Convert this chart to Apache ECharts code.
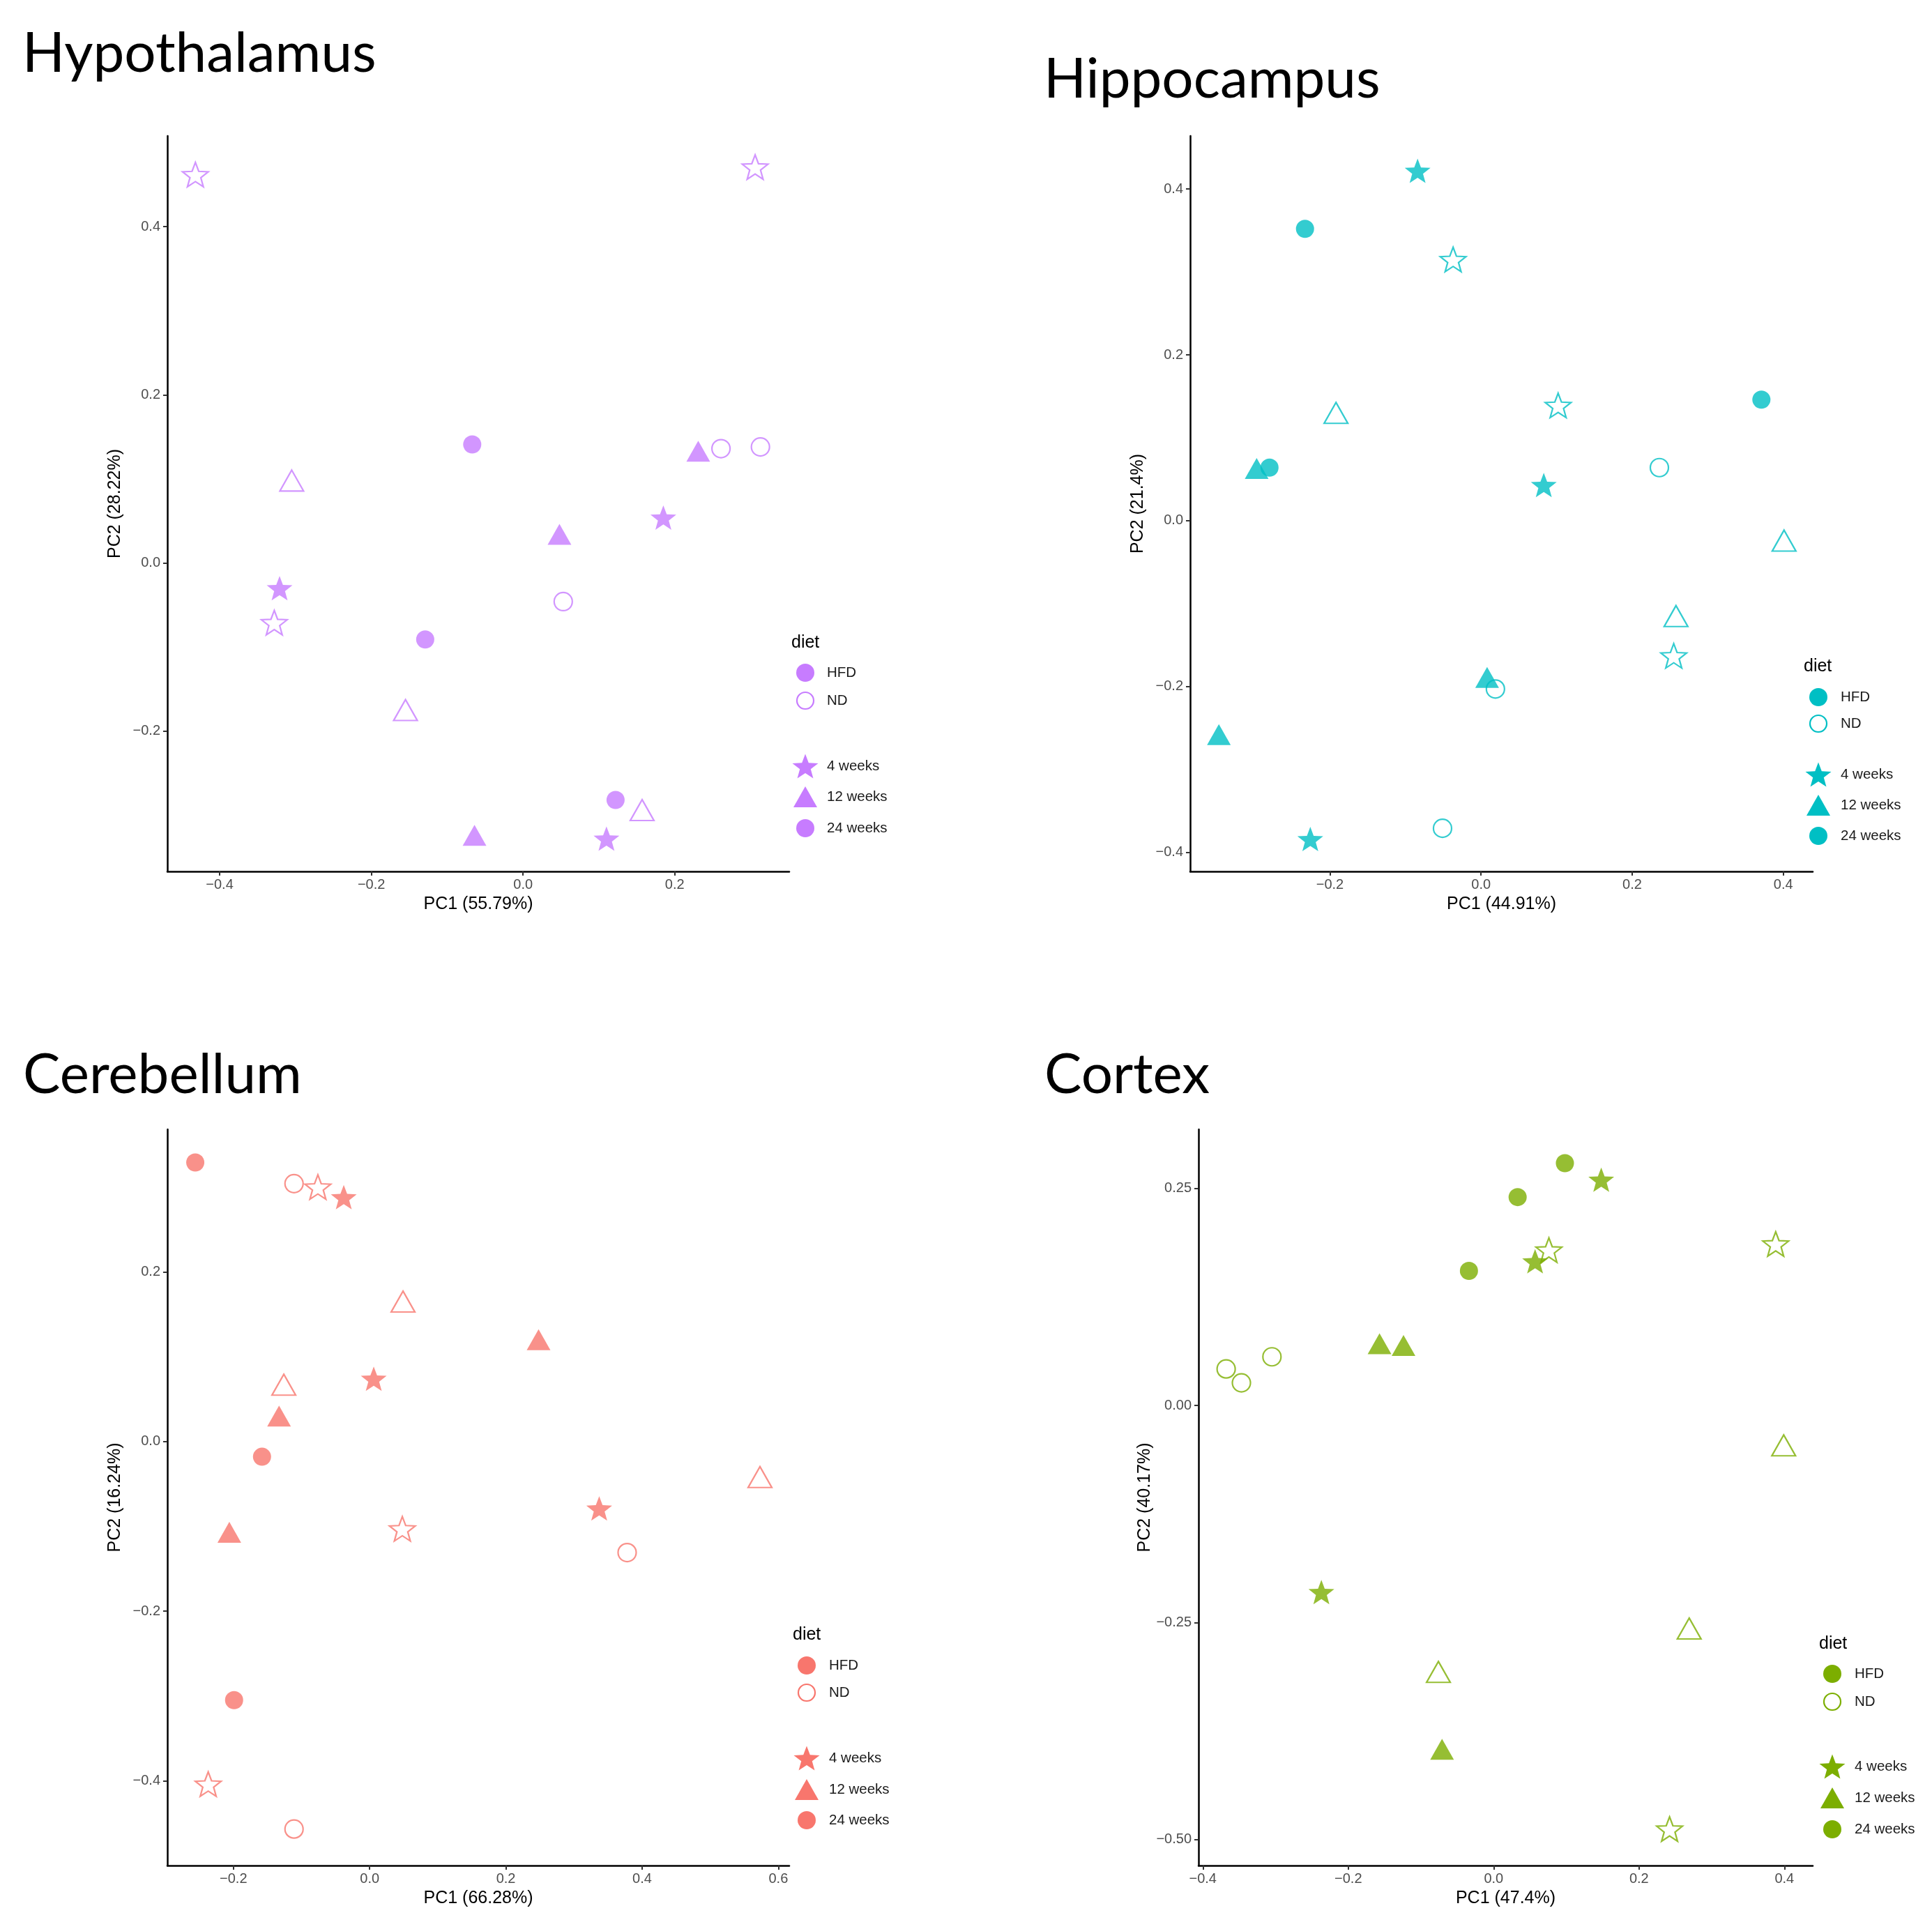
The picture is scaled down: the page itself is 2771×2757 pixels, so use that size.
<!DOCTYPE html>
<html>
<head>
<meta charset="utf-8">
<title>PCA by brain region</title>
<script src="https://cdn.jsdelivr.net/npm/echarts@6.0.0/dist/echarts.min.js"></script>
<style>
  html, body { margin: 0; padding: 0; background: #fff; }
  #main { width: 2771px; height: 2757px; }
</style>
</head>
<body>
<div id="main"></div>
<script>
// regions, groups
var regions = ['Hypothalamus', 'Hippocampus', 'Cerebellum', 'Cortex'];
var diets = ['HFD', 'ND'];
var times = ['4 weeks', '12 weeks', '24 weeks'];

var xTitles = ['PC1 (55.79%)', 'PC1 (44.91%)', 'PC1 (66.28%)', 'PC1 (47.4%)'];
var yTitles = ['PC2 (28.22%)', 'PC2 (21.4%)', 'PC2 (16.24%)', 'PC2 (40.17%)'];

// tick labels
var xTicks = [[-0.4, -0.2, 0, 0.2], [-0.2, 0, 0.2, 0.4], [-0.2, 0, 0.2, 0.4, 0.6], [-0.4, -0.2, 0, 0.2, 0.4]];
var yTicks = [[-0.2, 0, 0.2, 0.4], [-0.4, -0.2, 0, 0.2, 0.4], [-0.4, -0.2, 0, 0.2], [-0.5, -0.25, 0, 0.25]];
var yDecimals = [1, 1, 1, 2];

// axis extents
var xLimits = [[-0.469, 0.351], [-0.385, 0.439], [-0.297, 0.616], [-0.406, 0.439]];
var yLimits = [[-0.367, 0.508], [-0.423, 0.464], [-0.500, 0.368], [-0.530, 0.318]];

// [PC1, PC2, diet, time]
var hypothalamus = [
    [-0.432, 0.462, 'ND', '4 weeks'],
    [0.306, 0.471, 'ND', '4 weeks'],
    [-0.067, 0.141, 'HFD', '24 weeks'],
    [0.231, 0.133, 'HFD', '12 weeks'],
    [0.261, 0.136, 'ND', '24 weeks'],
    [0.313, 0.138, 'ND', '24 weeks'],
    [-0.305, 0.098, 'ND', '12 weeks'],
    [0.185, 0.054, 'HFD', '4 weeks'],
    [0.048, 0.034, 'HFD', '12 weeks'],
    [-0.321, -0.030, 'HFD', '4 weeks'],
    [-0.328, -0.071, 'ND', '4 weeks'],
    [0.053, -0.046, 'ND', '24 weeks'],
    [-0.129, -0.091, 'HFD', '24 weeks'],
    [-0.155, -0.175, 'ND', '12 weeks'],
    [0.122, -0.282, 'HFD', '24 weeks'],
    [0.157, -0.294, 'ND', '12 weeks'],
    [-0.064, -0.324, 'HFD', '12 weeks'],
    [0.110, -0.328, 'HFD', '4 weeks']
];

var hippocampus = [
    [-0.084, 0.422, 'HFD', '4 weeks'],
    [-0.233, 0.352, 'HFD', '24 weeks'],
    [-0.037, 0.315, 'ND', '4 weeks'],
    [-0.192, 0.130, 'ND', '12 weeks'],
    [0.102, 0.139, 'ND', '4 weeks'],
    [0.371, 0.146, 'HFD', '24 weeks'],
    [-0.297, 0.063, 'HFD', '12 weeks'],
    [-0.280, 0.064, 'HFD', '24 weeks'],
    [0.236, 0.064, 'ND', '24 weeks'],
    [0.083, 0.043, 'HFD', '4 weeks'],
    [0.401, -0.024, 'ND', '12 weeks'],
    [0.258, -0.115, 'ND', '12 weeks'],
    [0.255, -0.163, 'ND', '4 weeks'],
    [0.008, -0.189, 'HFD', '12 weeks'],
    [0.019, -0.203, 'ND', '24 weeks'],
    [-0.347, -0.258, 'HFD', '12 weeks'],
    [-0.051, -0.371, 'ND', '24 weeks'],
    [-0.226, -0.384, 'HFD', '4 weeks']
];

var cerebellum = [
    [-0.256, 0.329, 'HFD', '24 weeks'],
    [-0.111, 0.304, 'ND', '24 weeks'],
    [-0.076, 0.300, 'ND', '4 weeks'],
    [-0.038, 0.288, 'HFD', '4 weeks'],
    [0.049, 0.165, 'ND', '12 weeks'],
    [0.248, 0.120, 'HFD', '12 weeks'],
    [0.006, 0.074, 'HFD', '4 weeks'],
    [-0.126, 0.067, 'ND', '12 weeks'],
    [-0.133, 0.030, 'HFD', '12 weeks'],
    [-0.158, -0.018, 'HFD', '24 weeks'],
    [0.573, -0.042, 'ND', '12 weeks'],
    [0.337, -0.079, 'HFD', '4 weeks'],
    [-0.206, -0.107, 'HFD', '12 weeks'],
    [0.048, -0.103, 'ND', '4 weeks'],
    [0.378, -0.131, 'ND', '24 weeks'],
    [-0.199, -0.305, 'HFD', '24 weeks'],
    [-0.237, -0.404, 'ND', '4 weeks'],
    [-0.111, -0.457, 'ND', '24 weeks']
];

var cortex = [
    [0.098, 0.279, 'HFD', '24 weeks'],
    [0.148, 0.260, 'HFD', '4 weeks'],
    [0.033, 0.240, 'HFD', '24 weeks'],
    [0.076, 0.179, 'ND', '4 weeks'],
    [0.057, 0.166, 'HFD', '4 weeks'],
    [0.388, 0.186, 'ND', '4 weeks'],
    [-0.034, 0.155, 'HFD', '24 weeks'],
    [-0.157, 0.071, 'HFD', '12 weeks'],
    [-0.124, 0.069, 'HFD', '12 weeks'],
    [-0.305, 0.056, 'ND', '24 weeks'],
    [-0.368, 0.042, 'ND', '24 weeks'],
    [-0.347, 0.026, 'ND', '24 weeks'],
    [0.399, -0.046, 'ND', '12 weeks'],
    [-0.237, -0.215, 'HFD', '4 weeks'],
    [0.269, -0.257, 'ND', '12 weeks'],
    [-0.076, -0.307, 'ND', '12 weeks'],
    [-0.071, -0.396, 'HFD', '12 weeks'],
    [0.242, -0.488, 'ND', '4 weeks']
];

var regionPoints = [hypothalamus, hippocampus, cerebellum, cortex];

// ---- layout / style ----
var colors = ['#C77CFF', '#00BFC4', '#F8766D', '#7CAE00'];

var gridBoxes = [
    { left: 240, top: 195, width: 892, height: 1055 },
    { left: 1707, top: 195, width: 893, height: 1055 },
    { left: 240, top: 1620, width: 892, height: 1056 },
    { left: 1719, top: 1620, width: 881, height: 1056 }
];

var titlePos = [[32, 37], [1497, 74], [33, 1502], [1498, 1502]];

// legend: title x/y, key x, text x, y of each key
var legendPos = [
    { tx: 1135, ty: 922, kx: 1155, lx: 1186, ys: [965, 1005, 1099, 1143, 1188] },
    { tx: 2587, ty: 956, kx: 2608, lx: 2640, ys: [1000, 1038, 1111, 1155, 1199] },
    { tx: 1137, ty: 2345, kx: 1157, lx: 1189, ys: [2389, 2428, 2522, 2567, 2611] },
    { tx: 2609, ty: 2358, kx: 2628, lx: 2660, ys: [2401, 2441, 2534, 2579, 2624] }
];

// five point star, box 0..100 wide
var starPts = [[50, 0], [62.34, 33.01], [97.55, 34.55], [69.97, 56.49], [79.39, 90.45],
               [50, 71], [20.61, 90.45], [30.03, 56.49], [2.45, 34.55], [37.66, 33.01]];
var starPath = 'path://M' + starPts.map(function(p) { return p[0] + ',' + p[1]; }).join('L') + 'Z';
var shapeOf = { '4 weeks': starPath, '12 weeks': 'triangle', '24 weeks': 'circle' };
var sizeOf = { '4 weeks': [37, 35], '12 weeks': [34, 30], '24 weeks': 26 };
var strokeW = 2.2;

var fontAxis = 'Liberation Sans';

function fmt(d) {
    return function(v) {
        var s = Math.abs(v).toFixed(d);
        return (v < -1e-9 ? '\u2212' : '') + s;
    };
}

// star polygon for legend key centred on cx,cy
function starKey(cx, cy, w, h) {
    return starPts.map(function(p) {
        return [cx + (p[0] - 50) / 95.1 * w, cy + (p[1] - 45.2) / 90.45 * h];
    });
}

var grid = [], xAxis = [], yAxis = [], series = [], title = [], graphic = [];

for (var i = 0; i < regions.length; i++) {
    var c = colors[i];
    grid.push(gridBoxes[i]);

    title.push({
        text: regions[i],
        left: titlePos[i][0],
        top: titlePos[i][1],
        padding: 0,
        textStyle: { fontFamily: 'Lato', fontWeight: 'normal', fontSize: 80, color: '#000' }
    });

    xAxis.push({
        type: 'value',
        gridIndex: i,
        min: xLimits[i][0],
        max: xLimits[i][1],
        name: xTitles[i],
        nameLocation: 'middle',
        nameGap: 35,
        nameTextStyle: { fontFamily: fontAxis, fontSize: 25, color: '#000' },
        axisLine: { show: true, onZero: false, lineStyle: { color: '#000', width: 2.5 } },
        axisTick: { show: true, customValues: xTicks[i], length: 6, lineStyle: { color: '#333', width: 2 } },
        axisLabel: { customValues: xTicks[i], formatter: fmt(1), margin: 9, fontFamily: fontAxis, fontSize: 20, color: '#4D4D4D' },
        splitLine: { show: false }
    });

    yAxis.push({
        type: 'value',
        gridIndex: i,
        min: yLimits[i][0],
        max: yLimits[i][1],
        name: yTitles[i],
        nameLocation: 'middle',
        nameGap: 62,
        nameTextStyle: { fontFamily: fontAxis, fontSize: 25, color: '#000' },
        axisLine: { show: true, onZero: false, lineStyle: { color: '#000', width: 2.5 } },
        axisTick: { show: true, customValues: yTicks[i], length: 6, lineStyle: { color: '#333', width: 2 } },
        axisLabel: { customValues: yTicks[i], formatter: fmt(yDecimals[i]), margin: 10, fontFamily: fontAxis, fontSize: 20, color: '#4D4D4D' },
        splitLine: { show: false }
    });

    for (var d = 0; d < diets.length; d++) {
        for (var t = 0; t < times.length; t++) {
            var dn = diets[d], tn = times[t];
            var pts = regionPoints[i].filter(function(p) { return p[2] == dn && p[3] == tn; })
                .map(function(p) { return [p[0], p[1]]; });
            series.push({
                name: regions[i] + ' ' + dn + ' ' + tn,
                type: 'scatter',
                xAxisIndex: i,
                yAxisIndex: i,
                symbol: shapeOf[tn],
                symbolSize: sizeOf[tn],
                itemStyle: dn == 'HFD'
                    ? { color: c }
                    : { color: 'rgba(255,255,255,0)', borderColor: c, borderWidth: strokeW },
                silent: true,
                data: pts
            });
        }
    }

    // legend keys
    var L = legendPos[i];
    graphic.push({ type: 'text', x: L.tx, y: L.ty, style: { text: 'diet', fontFamily: fontAxis, fontSize: 25, fill: '#000', verticalAlign: 'middle', align: 'left' } });
    graphic.push({ type: 'circle', shape: { cx: L.kx, cy: L.ys[0], r: 13 }, style: { fill: c } });
    graphic.push({ type: 'circle', shape: { cx: L.kx, cy: L.ys[1], r: 12 }, style: { fill: 'none', stroke: c, lineWidth: strokeW } });
    graphic.push({ type: 'polygon', shape: { points: starKey(L.kx, L.ys[2], 37, 35) }, style: { fill: c } });
    graphic.push({ type: 'polygon', shape: { points: [[L.kx, L.ys[3] - 15], [L.kx + 17, L.ys[3] + 15], [L.kx - 17, L.ys[3] + 15]] }, style: { fill: c } });
    graphic.push({ type: 'circle', shape: { cx: L.kx, cy: L.ys[4], r: 13 }, style: { fill: c } });
    var labels = diets.concat(times);
    for (var k = 0; k < labels.length; k++) {
        graphic.push({
            type: 'text', x: L.lx, y: L.ys[k],
            style: { text: labels[k], fontFamily: fontAxis, fontSize: 20.5, fill: '#1a1a1a', verticalAlign: 'middle', align: 'left' }
        });
    }
}

var myChart = echarts.init(document.getElementById('main'));
myChart.setOption({
    animation: false,
    backgroundColor: '#fff',
    title: title,
    grid: grid,
    xAxis: xAxis,
    yAxis: yAxis,
    series: series,
    graphic: graphic
});
</script>
</body>
</html>
